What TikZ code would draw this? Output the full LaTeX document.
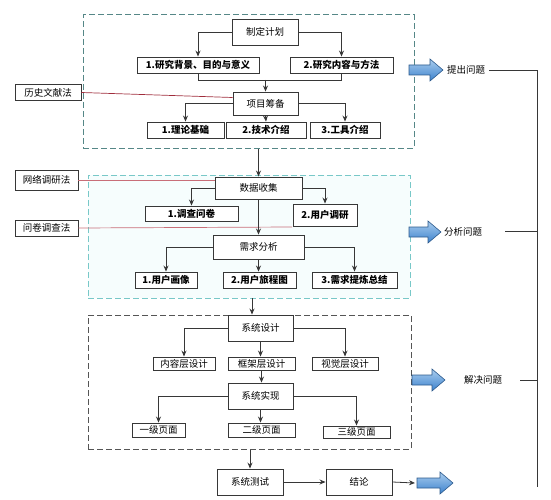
\documentclass[tikz,border=0pt]{standalone}
\usepackage{fontspec}
\setmainfont{Noto Sans CJK SC}
\usetikzlibrary{arrows.meta,calc}
\definecolor{bOne}{RGB}{85,135,135}
\definecolor{bTwo}{RGB}{120,200,200}
\definecolor{bTwoFill}{RGB}{246,253,253}
\definecolor{bThree}{RGB}{85,85,85}
\definecolor{edge}{RGB}{55,55,55}
\definecolor{redA}{RGB}{160,45,60}
\definecolor{redB}{RGB}{200,110,120}
\definecolor{arrTop}{RGB}{170,205,238}
\definecolor{arrBot}{RGB}{60,130,205}
\definecolor{arrEdge}{RGB}{45,90,140}
\newcommand\bluearr[3]{\draw[barrow] (#1,#3-5) -- (#2-13,#3-5) -- (#2-13,#3-11) -- (#2,#3) -- (#2-13,#3+11) -- (#2-13,#3+5) -- (#1,#3+5) -- cycle;}
\begin{document}
\begin{tikzpicture}[x=1pt,y=-1pt,
  every node/.style={inner sep=0pt,font=\fontsize{9.5}{11}\selectfont},
  bx/.style={draw=edge,line width=0.9pt,fill=white},
  sub/.style={bx,font=\fontsize{9.5}{11}\selectfont\bfseries},
  lbl/.style={font=\fontsize{9.5}{11}\selectfont},
  arr/.style={draw=edge,line width=0.8pt,-{Stealth[length=6pt,width=5pt]}},
  ln/.style={draw=edge,line width=0.8pt},
  dboxA/.style={draw=bOne,line width=1pt,dash pattern=on 6pt off 3pt},
  dboxB/.style={draw=bTwo,line width=1pt,dash pattern=on 6pt off 3pt,fill=bTwoFill},
  dboxC/.style={draw=bThree,line width=1pt,dash pattern=on 6pt off 3pt},
  barrow/.style={draw=arrEdge,line width=0.6pt,top color=arrTop,bottom color=arrBot},
  redline/.style={line width=0.7pt}
]
\useasboundingbox (0,0) rectangle (551,500);
% dashed frames
\node[dboxA,minimum width=331pt,minimum height=133pt] (B1) at (248.5,81.5) {};
\node[dboxB,minimum width=322pt,minimum height=123pt] (B2) at (249,236.5) {};
\node[dboxC,minimum width=323pt,minimum height=134pt] (B3) at (249.5,382) {};

% box 1
\node[bx,minimum width=66pt,minimum height=26pt] (jh) at (265,32) {制定计划};
\node[sub,minimum width=122pt,minimum height=16pt] (bj) at (198,65) {1.研究背景、目的与意义};
\node[sub,minimum width=103pt,minimum height=16pt] (nr) at (341.5,65) {2.研究内容与方法};
\node[bx,minimum width=65pt,minimum height=23pt] (xm) at (265.5,103.5) {项目筹备};
\node[sub,minimum width=77pt,minimum height=16pt] (ll) at (185.5,130) {1.理论基础};
\node[sub,minimum width=80pt,minimum height=16pt] (js) at (266,130) {2.技术介绍};
\node[sub,minimum width=70pt,minimum height=16pt] (gj) at (345,130) {3.工具介绍};
\node[bx,minimum width=66pt,minimum height=16pt] (ls) at (48,92.5) {历史文献法};

% box 2
\node[bx,minimum width=87pt,minimum height=22pt] (sj) at (258.5,188) {数据收集};
\node[sub,minimum width=93pt,minimum height=15pt] (dc) at (191.5,213.5) {1.调查问卷};
\node[sub,minimum width=64pt,minimum height=22pt] (yh) at (325,215) {2.用户调研};
\node[bx,minimum width=63pt,minimum height=20pt] (wl) at (46.5,180) {网络调研法};
\node[bx,minimum width=63pt,minimum height=16pt] (wj) at (46.5,228) {问卷调查法};
\node[bx,minimum width=91pt,minimum height=24pt] (xq) at (258.5,247) {需求分析};
\node[sub,minimum width=62pt,minimum height=16pt] (hx) at (166,280) {1.用户画像};
\node[sub,minimum width=73pt,minimum height=16pt] (lc) at (259.5,280) {2.用户旅程图};
\node[sub,minimum width=85pt,minimum height=16pt] (tl) at (354.5,280) {3.需求提炼总结};

% box 3
\node[bx,minimum width=65pt,minimum height=26pt] (xs) at (260.5,328) {系统设计};
\node[bx,minimum width=62pt,minimum height=13pt] (nc) at (184,363.5) {内容层设计};
\node[bx,minimum width=67pt,minimum height=13pt] (kj) at (261.5,363.5) {框架层设计};
\node[bx,minimum width=66pt,minimum height=13pt] (sc) at (345,363.5) {视觉层设计};
\node[bx,minimum width=65pt,minimum height=26pt] (ss) at (260.5,396) {系统实现};
\node[bx,minimum width=53pt,minimum height=14pt] (y1) at (158.5,430) {一级页面};
\node[bx,minimum width=67pt,minimum height=14pt] (y2) at (261.5,430) {二级页面};
\node[bx,minimum width=67pt,minimum height=12pt] (y3) at (356.5,432) {三级页面};
\node[bx,minimum width=66pt,minimum height=26pt] (cs) at (250,482) {系统测试};
\node[bx,minimum width=66pt,minimum height=26pt] (jl) at (359,482) {结论};

% right side labels
\node[lbl] (tc) at (466,70) {提出问题};
\node[lbl] (fx) at (463,232) {分析问题};
\node[lbl] (jj) at (483,380) {解决问题};
\coordinate (r1) at (537,70);
\coordinate (r2) at (537,231);
\coordinate (r3) at (537,380);
\coordinate (r4) at (537,487);
\draw[ln] ([xshift=4pt]tc.east) -- (r1) -- (r4);
\draw[ln] (505,231) -- (r2);
\draw[ln] (520,380) -- (r3);

% block arrows
\bluearr{409}{443}{70}
\bluearr{409}{441}{232}
\bluearr{412}{445}{380}
\bluearr{417}{453}{483}
\coordinate (a4) at (415,483);
\draw[arr] (jl.east) -- (a4);

% red method lines
\draw[redline,draw=redA] (ls.east) -- ([yshift=6pt]xm.west);
\draw[redline,draw=redB] (wl.east) -- ([yshift=8pt]sj.west);
\coordinate (wjend) at (292,227);
\draw[redline,draw=redB] (wj.east) -- (wjend);

% box 1 connectors
\draw[arr] (jh.west) -| (bj.north);
\draw[arr] (jh.east) -| (nr.north);
\coordinate (m1) at (265.5,80);
\draw[ln] (bj.south) |- (m1);
\draw[ln] (nr.south) |- (m1);
\draw[arr] (m1) -- (xm.north);
\draw[arr] (xm.west) -| (ll.north);
\draw[arr] (xm.south) -- (js.north);
\draw[arr] (xm.east) -| (gj.north);

% between boxes
\draw[arr] (sj.north |- B1.south) -- (sj.north);
\coordinate (b2s) at (252,298);
\draw[arr] (b2s) -- (b2s |- xs.north);
\draw[arr] (cs.north |- B3.south) -- (cs.north);

% box 2 connectors
\draw[arr] (sj.west) -| (dc.north);
\draw[arr] (sj.east) -| (yh.north);
\draw[arr] (sj.south) -- (sj.south |- xq.north);
\draw[arr] (xq.west) -| (hx.north);
\draw[arr] (xq.south) -- (xq.south |- lc.north);
\draw[arr] (xq.east) -| (tl.north);

% box 3 connectors
\draw[arr] (xs.west) -| (nc.north);
\draw[arr] (xs.south) -- (xs.south |- kj.north);
\draw[arr] (xs.east) -| (sc.north);
\draw[arr] (kj.south) -- (kj.south |- ss.north);
\draw[arr] (ss.west) -| (y1.north);
\draw[arr] (ss.south) -- (ss.south |- y2.north);
\draw[arr] (ss.east) -| (y3.north);
\draw[arr] (cs.east) -- (jl.west);
\end{tikzpicture}
\end{document}
